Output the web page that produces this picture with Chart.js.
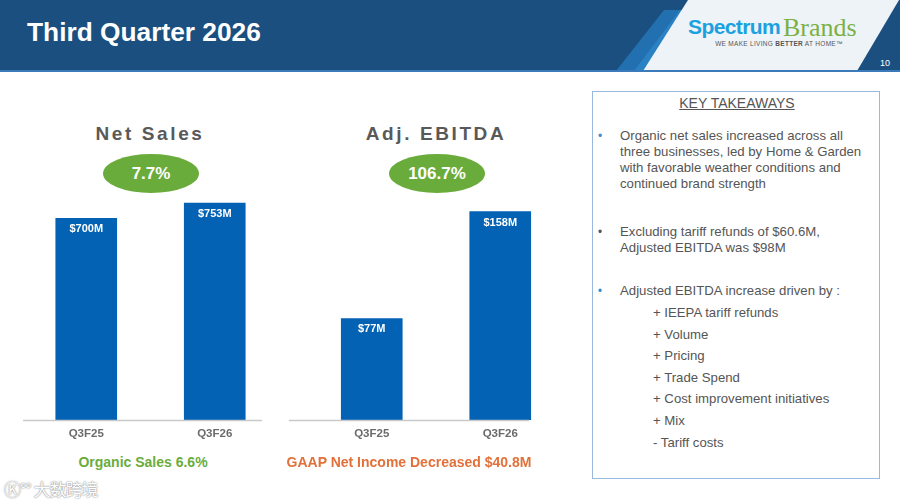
<!DOCTYPE html>
<html>
<head>
<meta charset="utf-8">
<script src="https://cdn.jsdelivr.net/npm/chart.js@4/dist/chart.umd.min.js"></script>
<style>
  html, body { margin:0; padding:0; }
  body { width:900px; height:504px; position:relative; overflow:hidden; background:#fff; font-family:"Liberation Sans", Arial, sans-serif; }
  .abs { position:absolute; }
  #hdr { left:0; top:0; }
  #title { left:27px; top:17px; color:#fff; font-weight:bold; font-size:26.3px; }
  .logo1 { left:688px; top:15px; color:#1ba1e0; font-weight:bold; font-size:21px; letter-spacing:-0.6px; }
  .logo2 { left:783px; top:13px; color:#7bb144; font-family:"Liberation Serif", serif; font-size:26px; }
  .tag { left:704px; top:40px; width:150px; text-align:center; color:#555; font-size:6.5px; letter-spacing:0.3px; }
  .pg { left:872px; top:58px; width:26px; text-align:center; color:#fff; font-size:9px; }
  .ctitle { top:123px; width:260px; text-align:center; color:#595959; font-weight:bold; font-size:19px; letter-spacing:2.6px; }
  .pill { top:154px; width:96px; height:39px; border-radius:50%; background:#6aac3c; color:#fff; font-weight:bold; font-size:17px; text-align:center; line-height:39px; }
  .foot { top:454px; font-weight:bold; font-size:14px; text-align:center; width:300px; }
  #box { left:592px; top:91px; width:286px; height:386px; border:1.5px solid #98b8dc; }
  .kt { left:592px; top:95px; width:290px; text-align:center; color:#555; font-size:14px; text-decoration:underline; }
  .txt { color:#555; font-size:13.2px; line-height:16px; }
  .bul { font-size:12px; }
  canvas { position:absolute; }
  .wm { left:4px; top:476px; font-family:"Noto Sans CJK SC", sans-serif; font-size:17px; color:#fff; text-shadow:0 0 1px #888, 0 0 2px #999; letter-spacing:-1px; }
</style>
</head>
<body>
<svg id="hdr" class="abs" width="900" height="76">
  <rect x="0" y="0" width="900" height="71" fill="#1b4f80"/>
  <polygon points="664,10 700,10 652,71 616,71" fill="#2270b0"/>
  <polygon points="680,10 700,10 652,71 634,71" fill="#2a82c4"/>
  <polygon points="688,0 899,0 857,71 643,71" fill="#eef3f8"/>
  <rect x="0" y="70" width="900" height="2" fill="#3b7bbb"/>
</svg>
<div id="title" class="abs">Third Quarter 2026</div>
<div class="abs logo1">Spectrum</div>
<div class="abs logo2">Brands</div>
<div class="abs tag">WE MAKE LIVING <b>BETTER</b> AT HOME™</div>
<div class="abs pg">10</div>

<div class="abs ctitle" style="left:20px;">Net Sales</div>
<div class="abs ctitle" style="left:306px;">Adj. EBITDA</div>
<div class="abs pill" style="left:103px;">7.7%</div>
<div class="abs pill" style="left:389px;">106.7%</div>

<canvas id="c1" style="left:0px;top:170px;" width="300" height="280"></canvas>
<canvas id="c2" style="left:285px;top:170px;" width="300" height="280"></canvas>

<div class="abs foot" style="left:-7px;color:#6aac3c;">Organic Sales 6.6%</div>
<div class="abs foot" style="left:259px;color:#e2703a;">GAAP Net Income Decreased $40.8M</div>

<div id="box" class="abs"></div>
<div class="abs kt">KEY TAKEAWAYS</div>
<div class="abs txt bul" style="left:598px;top:128px;color:#3a8fd0;">•</div>
<div class="abs txt" style="left:620px;top:128px;width:248px;">Organic net sales increased across all three businesses, led by Home &amp; Garden with favorable weather conditions and continued brand strength</div>
<div class="abs txt bul" style="left:598px;top:224px;color:#555;">•</div>
<div class="abs txt" style="left:620px;top:224px;width:248px;">Excluding tariff refunds of $60.6M, Adjusted EBITDA was $98M</div>
<div class="abs txt bul" style="left:598px;top:283px;color:#3a8fd0;">•</div>
<div class="abs txt" style="left:620px;top:283px;width:248px;">Adjusted EBITDA increase driven by :</div>
<div id="drivers" class="abs txt" style="left:653px;top:302px;line-height:21.6px;"></div>

<div class="abs wm">&#x24C0;°° 大数跨境</div>

<script>
const categories = ["Q3F25", "Q3F26"];
const netSales = [700, 753];
const netSalesLabels = ["$700M", "$753M"];
const adjEbitda = [77, 158];
const adjEbitdaLabels = ["$77M", "$158M"];
const netSalesMax = 833;
const ebitdaMax = 182;
const drivers = ["+ IEEPA tariff refunds", "+ Volume", "+ Pricing", "+ Trade Spend", "+ Cost improvement initiatives", "+ Mix", "- Tariff costs"];

document.getElementById('drivers').innerHTML = drivers.map(d => '<div>' + d.replace('&','&amp;') + '</div>').join('');

const barBlue = '#0462b5';

const valueLabels = {
  id: 'valueLabels',
  afterDatasetsDraw(chart) {
    const ctx = chart.ctx;
    const labels = chart.options.plugins.valueLabels.labels;
    const meta = chart.getDatasetMeta(0);
    ctx.save();
    ctx.fillStyle = '#ffffff';
    ctx.font = 'bold 11px "Liberation Sans", Arial, sans-serif';
    ctx.textAlign = 'center';
    ctx.textBaseline = 'middle';
    meta.data.forEach((bar, i) => {
      ctx.fillText(labels[i], bar.x, bar.y + 11);
    });
    ctx.restore();
  }
};

const baseLine = {
  id: 'baseLine',
  afterDatasetsDraw(chart) {
    const o = chart.options.plugins.baseLine;
    const ctx = chart.ctx;
    const y = chart.scales.y.getPixelForValue(0) + 0.5;
    ctx.save();
    ctx.strokeStyle = '#c9c9c9';
    ctx.lineWidth = 1.5;
    ctx.beginPath();
    ctx.moveTo(o.from, y);
    ctx.lineTo(o.to, y);
    ctx.stroke();
    ctx.restore();
  }
};

function makeChart(id, values, labels, max, padL, padR, lineFrom, lineTo) {
  return new Chart(document.getElementById(id), {
    type: 'bar',
    data: { labels: categories, datasets: [{ data: values, backgroundColor: barBlue, barThickness: 61, borderWidth: 0 }] },
    options: {
      responsive: false,
      animation: false,
      devicePixelRatio: 1,
      layout: { padding: { left: padL, right: padR, top: 10, bottom: 0 } },
      plugins: {
        legend: { display: false },
        tooltip: { enabled: false },
        valueLabels: { labels: labels },
        baseLine: { from: lineFrom, to: lineTo }
      },
      scales: {
        x: {
          grid: { display: false, drawTicks: false },
          border: { display: false },
          ticks: { color: '#6b6b6b', font: { family: '"Liberation Sans", Arial, sans-serif', size: 11.5, weight: 'bold' }, padding: 7 },
          afterFit(s) { s.height = 30; }
        },
        y: { display: false, min: 0, max: max }
      }
    },
    plugins: [valueLabels, baseLine]
  });
}

makeChart('c1', netSales, netSalesLabels, netSalesMax, 22, 21, 23, 262);
makeChart('c2', adjEbitda, adjEbitdaLabels, ebitdaMax, 22.5, 20.5, 4, 244);
</script>
</body>
</html>
